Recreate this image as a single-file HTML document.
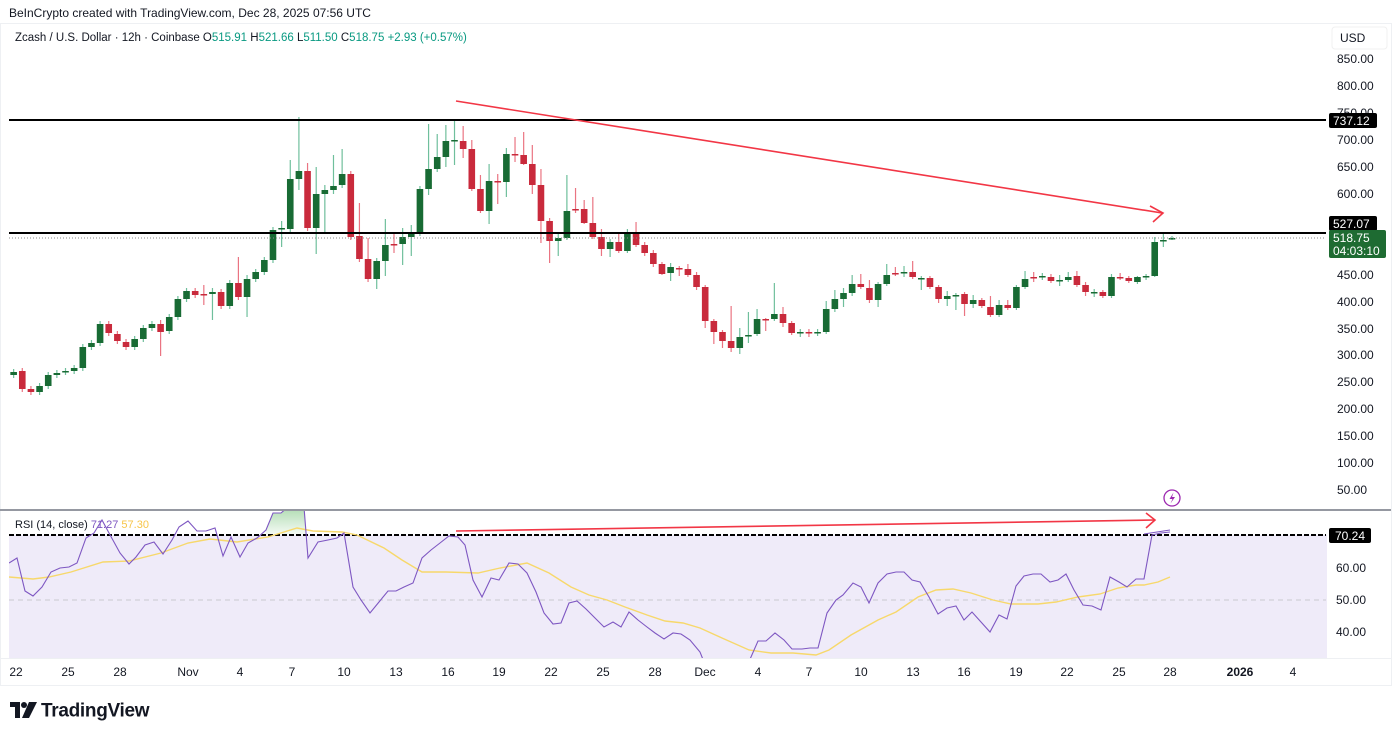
<!DOCTYPE html>
<html><head><meta charset="utf-8"><style>
html,body{margin:0;padding:0;background:#fff;width:1400px;height:736px;overflow:hidden;font-family:"Liberation Sans",sans-serif}
svg text{font-family:"Liberation Sans",sans-serif}
</style></head><body>
<svg id="s" width="1400" height="736" viewBox="0 0 1400 736" xmlns="http://www.w3.org/2000/svg">
<rect x="0" y="0" width="1400" height="736" fill="#fff"/>
<text x="9" y="17" font-size="12" fill="#131722">BeInCrypto created with TradingView.com, Dec 28, 2025 07:56 UTC</text>
<rect x="0.5" y="23.5" width="1391" height="662" fill="none" stroke="#eef0f3"/>
<defs>
<clipPath id="cm"><rect x="9" y="24" width="1318" height="486"/></clipPath>
<clipPath id="cr"><rect x="9" y="511" width="1318" height="147"/></clipPath>
<linearGradient id="gg" x1="0" y1="0" x2="0" y2="1"><stop offset="0" stop-color="#4caf50" stop-opacity="0.45"/><stop offset="1" stop-color="#4caf50" stop-opacity="0.05"/></linearGradient>
</defs>
<g id="candles" clip-path="url(#cm)"></g>
<line x1="9" y1="120" x2="1326" y2="120" stroke="#000" stroke-width="2"/>
<line x1="9" y1="233" x2="1326" y2="233" stroke="#000" stroke-width="2"/>
<line x1="9" y1="238" x2="1326" y2="238" stroke="#888" stroke-width="1" stroke-dasharray="1,2"/>
<line x1="456" y1="101" x2="1162" y2="213" stroke="#f23645" stroke-width="1.6"/>
<polyline points="1150,206 1163,213 1153,222" fill="none" stroke="#f23645" stroke-width="1.6"/>
<text x="15" y="41" font-size="11.5" fill="#131722">Zcash / U.S. Dollar · 12h · Coinbase <tspan fill="#131722">O</tspan><tspan fill="#089981">515.91</tspan> H<tspan fill="#089981">521.66</tspan> L<tspan fill="#089981">511.50</tspan> C<tspan fill="#089981">518.75</tspan> <tspan fill="#089981">+2.93 (+0.57%)</tspan></text>
<g id="paxis" font-size="12" fill="#131722"></g>
<rect x="1332" y="27" width="55" height="22" rx="3" fill="#fff" stroke="#f0f0f0"/>
<text x="1340" y="42" font-size="12" fill="#131722">USD</text>
<rect x="1329" y="113" width="48" height="15" rx="2" fill="#000"/>
<text x="1333" y="125" font-size="12" fill="#fff">737.12</text>
<rect x="1329" y="216" width="48" height="15" rx="2" fill="#000"/>
<text x="1333" y="228" font-size="12" fill="#fff">527.07</text>
<rect x="1329" y="230" width="57" height="28" rx="2" fill="#1e6b32"/>
<text x="1333" y="242" font-size="12" fill="#fff">518.75</text>
<text x="1333" y="255" font-size="12" fill="#fff">04:03:10</text>
<line x1="0" y1="510" x2="1391" y2="510" stroke="#9598a1" stroke-width="2"/>
<rect x="9" y="535" width="1318" height="123" fill="#efebf9"/>
<g clip-path="url(#cr)">
<polygon points="266,535 266,530 273,513 281,513 288,507 304,507 306,535" fill="url(#gg)"/>
</g>
<line x1="9" y1="535" x2="1326" y2="535" stroke="#000" stroke-width="2" stroke-dasharray="5,2"/>
<line x1="9" y1="600" x2="1326" y2="600" stroke="#c8c8d0" stroke-width="1" stroke-dasharray="5,4"/>
<g clip-path="url(#cr)">
<polyline id="ma" fill="none" stroke="#f7d86b" stroke-width="1.4"/>
<polyline id="rsi" fill="none" stroke="#7e57c2" stroke-width="1.1"/>
</g>
<polyline points="1144,534 1170,530" fill="none" stroke="#7e57c2" stroke-width="1.1"/>
<line x1="456" y1="531" x2="1155" y2="520" stroke="#f23645" stroke-width="1.6"/>
<polyline points="1146,513 1155,520 1146,528" fill="none" stroke="#f23645" stroke-width="1.6"/>
<text x="15" y="528" font-size="11" fill="#131722">RSI (14, close) <tspan fill="#7e57c2">71.27</tspan> <tspan fill="#f7c548">57.30</tspan></text>
<circle cx="1172" cy="498" r="8" fill="#fff" stroke="#9c27b0" stroke-width="1.3"/>
<path d="M1173.5,492.5 L1169.5,499 L1172.5,499 L1170.5,503.5 L1175,497 L1172,497 Z" fill="#9c27b0"/>
<rect x="1329" y="528" width="42" height="15" rx="2" fill="#000"/>
<text x="1335" y="540" font-size="12" fill="#fff">70.24</text>
<text x="1336" y="572" font-size="12" fill="#131722">60.00</text>
<text x="1336" y="604" font-size="12" fill="#131722">50.00</text>
<text x="1336" y="636" font-size="12" fill="#131722">40.00</text>
<line x1="0" y1="658.5" x2="1391" y2="658.5" stroke="#eef0f3"/>
<g id="taxis" font-size="12" fill="#131722" text-anchor="middle"></g>
<g transform="translate(10,700)">
<path d="M0,2 H10 V18 H5 V7 H0 Z" fill="#131722"/>
<circle cx="14" cy="5" r="3" fill="#131722"/>
<path d="M19,2 H27 L19,18 H12 Z" fill="#131722"/>
<text x="31" y="16.5" font-size="19" font-weight="bold" fill="#131722" letter-spacing="-0.3">TradingView</text>
</g>
</svg>
<script>
var NS="http://www.w3.org/2000/svg";
function el(t,a,p){var e=document.createElementNS(NS,t);for(var k in a)e.setAttribute(k,a[k]);p.appendChild(e);return e;}
var D=[[371,375],[375,372],[371,389],[389,392],[392,386],[386,375],[375,373],[372,371],[371,368],[368,347],
[347,343],[343,324],[324,333],[334,341],[342,347],[347,339],[339,328],[328,324],[324,332,320,356],[331,317],
[317,299],[299,291],[291,295],[294,294,285,305],[294,292,288,320],[292,306],[306,283],[283,297,257,300],[297,279,275,317],[279,272],
[272,260],[260,230],[229,228,221,247],[229,179,160,232],[179,171,117,190],[171,228,163,231],[228,194,167,254],[194,190,185,233],[190,186,155,194],[185,174,149,188],
[174,237,171,240],[236,259,203,262],[259,279,238,282],[279,261,258,289],[261,245,219,276],[244,244,232,253],[244,237,228,265],[237,233,225,256],[233,189,186,236],[189,169,124,195],
[169,157,134,172],[157,141,125,167],[141,140,121,165],[141,149,126,158],[149,189,140,191],[189,211,175,213],[211,181,164,224],[181,182,174,204],[182,154,148,197],[154,155,137,162],
[155,164,132,165],[164,185,145,194],[185,221,169,243],[221,241,218,263],[241,238,234,256],[238,211,175,240],[209,210,188,213],[209,223,200,224],[223,237,197,239],[237,249,229,256],
[249,242,239,257],[242,251,233,253],[251,233,229,253],[233,245,222,247],[245,253],[253,264],[264,274,262,275],[273,267,263,281],[268,269,266,276],[269,275,264,277],
[275,287],[287,321,285,328],[321,332,319,344],[332,341,330,348],[341,348,306,352],[348,337,328,354],[335,335,312,343],[334,319,309,336],[319,320,318,331],[319,314,283,321],
[314,323,307,327],[323,333,321,335],[332,332,329,337],[332,332,329,337],[332,332,329,336],[332,309,301,334],[309,299,290,312],[299,293,288,307],[293,284,275,296],[284,287,274,289],
[288,300,280,303],[300,284,282,307],[284,275,264,286],[273,273,267,276],[272,272,266,277],[272,277,261,279],[278,278,276,290],[278,287,276,289],[287,299,285,303],[299,296,291,306],
[295,295,293,310],[294,304,292,316],[304,300,295,308],[300,306,298,308],[307,315,296,317],[315,305,300,317],[305,308,300,310],[308,287,285,310],[287,279,271,289],[277,277,272,282],
[276,276,273,280],[277,281,274,283],[280,280,275,286],[280,277,272,282],[276,285,271,287],[285,292,282,296],[292,292,289,297],[292,296,290,298],[296,277,274,298],[277,278,273,280],
[278,281,276,283],[282,277,276,284],[276,276,274,280],[276,242,237,277],[241,240,233,247],[239,238,236,240]];
var g=document.getElementById("candles");
var step=(1172-5)/135;
D.forEach(function(d,i){
 var x=5+i*step,o=d[0],c=d[1],up=c<o||(c==o&&i%2==0);
 var hi=d.length>2?d[2]:Math.min(o,c)-3,lo=d.length>2?d[3]:Math.max(o,c)+3;
 var bc=up?"#186b34":"#c92a3c",wc=up?"#6fbf9c":"#ea7482";
 if(c<o)bc="#186b34",wc="#6fbf9c";else if(c>o)bc="#c92a3c",wc="#ea7482";
 el("line",{x1:x,x2:x,y1:hi,y2:lo,stroke:wc,"stroke-width":1.2},g);
 var t=Math.min(o,c),h=Math.max(Math.abs(o-c),1.5);
 el("rect",{x:x-3.3,y:t,width:6.6,height:h,fill:bc},g);
});
var pa=document.getElementById("paxis");
[[850,59],[800,86],[750,113],[700,140],[650,167],[600,194],[450,275],[400,302],[350,329],[300,355],[250,382],[200,409],[150,436],[100,463],[50,490]].forEach(function(p){
 var t=el("text",{x:1337,y:p[1]+4},pa);t.textContent=p[0].toFixed(2);});
var ta=document.getElementById("taxis");
[["22",16],["25",68],["28",120],["Nov",188],["4",240],["7",292],["10",344],["13",396],["16",448],["19",499],["22",551],["25",603],["28",655],["Dec",705],["4",758],["7",809],["10",861],["13",913],["16",964],["19",1016],["22",1067],["25",1119],["28",1170],["2026",1240],["4",1293]].forEach(function(p){
 var t=el("text",{x:p[1],y:676},ta);t.textContent=p[0];if(p[0]=="2026")t.setAttribute("font-weight","bold");});
document.getElementById("rsi").setAttribute("points","9,563 17,558 25,591 33,596 42,587 51,572 60,568 69,567 77,563 86,538 94,533 102,520 109,533 120,553 129,564 136,557 145,545 154,542 163,554 172,540 179,527 188,521 197,531 206,531 215,528 223,556 231,537 240,557 248,543 257,538 266,530 273,513 281,513 288,507 304,507 308,558 318,542 328,540 337,538 344,533 353,587 361,600 370,613 379,602 388,591 396,591 404,587 413,583 422,558 431,550 440,543 449,536 458,537 465,545 473,580 482,597 491,578 499,580 509,563 518,564 527,573 536,592 544,613 553,624 561,623 569,603 577,601 586,609 595,618 604,627 613,622 621,627 629,612 638,620 647,627 655,633 664,639 673,633 681,634 690,640 700,652 704,662 720,680 740,680 751,657 758,641 766,641 775,633 784,640 792,649 802,649 810,648 818,648 827,613 836,600 843,595 853,583 861,587 869,603 878,583 887,574 896,572 904,572 912,580 920,582 929,597 938,614 947,608 956,606 964,620 972,612 981,622 990,632 999,615 1007,619 1016,586 1024,576 1033,574 1041,574 1050,582 1058,580 1066,574 1074,590 1083,605 1092,606 1101,610 1110,577 1119,582 1127,587 1136,579 1144,579 1152,535 1161,533 1170,532");
document.getElementById("ma").setAttribute("points","9,577 33,579 49,577 71,572 103,562 129,561 161,553 188,543 210,539 237,542 268,537 297,528 313,531 342,532 357,535 384,548 402,560 422,572 446,572 478,573 500,568 527,563 549,573 571,587 589,595 607,600 625,607 647,615 665,621 683,623 700,628 722,638 749,650 771,653 793,653 816,655 829,650 851,635 878,620 896,612 918,597 936,590 953,589 971,593 993,600 1011,604 1038,604 1056,602 1078,597 1100,594 1118,588 1136,585 1144,585 1158,582 1170,577");
</script>
</body></html>
